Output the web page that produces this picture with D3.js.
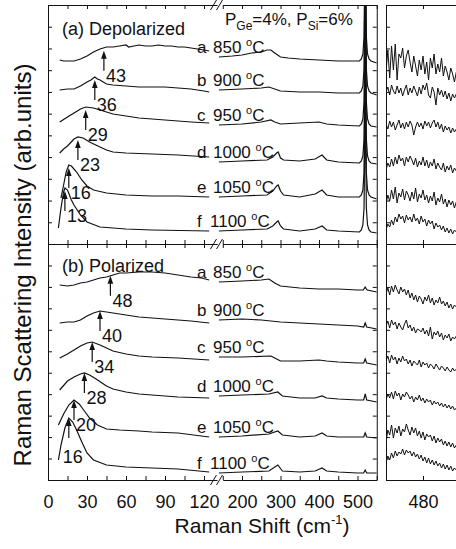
<!DOCTYPE html>
<html><head><meta charset="utf-8">
<script src="https://cdn.jsdelivr.net/npm/d3@7"></script>
<style>
body{margin:0;background:#fff}
text{font-family:"Liberation Sans",Arial,sans-serif;fill:#111}
.axis path,.axis line{stroke:#111;stroke-width:1}
.axis text{font-family:"Liberation Sans",Arial,sans-serif;font-size:18px;fill:#111}
</style>
</head><body><svg id="c" width="456" height="549"></svg>
<script>
// ---------------- DATA ----------------
const letters = ['a','b','c','d','e','f'];
const temps = ['850','900','950','1000','1050','1100'];
const depolPeaks = [43,36,29,23,16,13];
const polPeaks = [48,40,34,28,20,16];
const lowTicks = [0,15,30,45,60,75,90,105,120];
const highTicks = [150,200,250,300,350,400,450,500,550];
const zoomTicks = [470,480,490,500];
const zoomShifts = [470,470.5,471,471.5,472,472.5,473,473.5,474,474.5,475,475.5,476,476.5,477,477.5,478,478.5,479,479.5,480,480.5,481,481.5,482,482.5,483,483.5,484,484.5,485,485.5,486,486.5,487,487.5,488,488.5,489];

// (a) depolarized, low-frequency part [shift, intensity]
const depolLow = [
 [[9,184],[12,183],[15,183],[20,183],[25,185],[30,188],[35,192],[40,195],[45,197],[50,197],[55,198],[60,199],[62,197],[66,198],[70,199],[75,198],[80,198],[85,199],[90,198],[95,198],[100,197],[105,197],[110,196],[115,195],[120,194],[124,193]],
 [[9,154],[15,155],[20,155],[25,158],[30,162],[33,164],[36,167],[38,165],[40,164],[45,160],[50,159],[60,158],[70,157],[80,157],[90,157],[100,156],[110,155],[120,153],[124,152]],
 [[9,122],[15,127],[20,131],[25,135],[29,137],[35,136],[40,134],[50,130],[60,128],[70,126],[80,125],[90,124],[100,123],[110,122],[124,121]],
 [[9,91],[12,95],[15,98],[20,105],[23,107],[27,106],[32,102],[40,97],[45,94],[50,92],[60,91],[80,90],[100,89],[124,87]],
 [[10,46],[12,59],[14,72],[16,79],[18,78],[22,72],[26,64],[30,58],[35,54],[45,51],[60,49],[80,48],[100,48],[124,47]],
 [[8,16],[10,36],[12,52],[13,56],[15,54],[18,44],[20,39],[25,29],[30,22],[40,17],[60,15],[80,14],[124,13]]
];
// (a) depolarized, high-frequency part
const depolHigh = [
 [[140,187],[175,188],[200,189],[225,191],[250,192],[265,194],[275,194],[285,191],[300,187],[320,186],[350,185],[400,184],[450,183],[505,183],[510,185],[514,190],[517,207],[519,280],[520,600],[521,280],[523,207],[526,190],[530,185],[535,183],[550,181]],
 [[140,154],[200,155],[250,156],[270,157],[300,153],[350,152],[400,152],[450,151],[505,151],[510,153],[514,158],[517,175],[519,250],[520,600],[521,250],[523,175],[526,158],[530,153],[535,151],[550,149]],
 [[140,119],[200,120],[250,122],[275,124],[285,122],[300,120],[350,121],[400,122],[420,120],[450,119],[505,118],[510,120],[514,125],[517,142],[519,218],[520,600],[521,218],[523,142],[526,125],[530,120],[535,118],[550,117]],
 [[140,82],[200,83],[265,84],[280,87],[290,91],[294,92],[300,86],[308,84],[350,83],[390,85],[408,89],[420,84],[450,82],[505,81],[510,83],[514,88],[517,105],[519,180],[520,600],[521,180],[523,105],[526,88],[530,83],[535,81],[550,80]],
 [[140,47],[200,48],[265,49],[280,53],[290,58],[294,59],[300,53],[308,49],[350,47],[390,50],[408,54],[420,49],[450,47],[505,47],[510,49],[514,54],[517,71],[519,146],[520,600],[521,146],[523,71],[526,54],[530,49],[535,47],[550,45]],
 [[140,13],[200,14],[265,15],[280,18],[290,22],[294,23],[300,18],[308,15],[350,13],[390,15],[408,18],[420,14],[450,13],[505,12],[510,14],[514,19],[517,36],[519,111],[520,600],[521,111],[523,36],[526,19],[530,14],[535,12],[550,11]]
];
// (b) polarized, low-frequency part
const polLow = [
 [[9,195],[15,194],[20,195],[25,197],[30,198],[35,200],[40,202],[45,203],[50,205],[55,207],[60,207],[70,208],[80,208],[90,207],[100,205],[110,203],[118,202],[124,200]],
 [[9,157],[15,158],[20,158],[25,160],[30,164],[35,167],[40,169],[45,168],[50,167],[60,165],[70,163],[80,162],[90,161],[100,160],[110,159],[124,157]],
 [[9,122],[15,126],[20,130],[25,134],[30,137],[34,138],[40,135],[45,132],[50,129],[60,126],[70,124],[80,123],[100,122],[124,120]],
 [[9,90],[15,99],[20,103],[25,106],[28,107],[32,105],[37,101],[45,94],[50,91],[60,88],[70,86],[80,85],[100,83],[124,82]],
 [[8,55],[12,66],[16,75],[20,80],[24,76],[28,69],[32,62],[38,55],[45,51],[55,50],[70,49],[80,48],[100,47],[124,43]],
 [[8,20],[10,35],[13,52],[16,62],[19,58],[22,50],[26,38],[30,27],[35,20],[45,15],[60,13],[80,12],[100,11],[124,8]]
];
// (b) polarized, high-frequency part
const polHigh = [
 [[140,198],[200,199],[250,200],[270,201],[285,197],[300,194],[350,192],[400,191],[450,191],[500,190],[515,190],[520,193],[525,190],[550,188]],
 [[140,160],[200,161],[250,160],[300,158],[350,157],[400,156],[450,155],[500,154],[516,153],[520,157],[524,153],[550,151]],
 [[140,123],[200,123],[275,124],[285,122],[300,119],[350,119],[400,120],[420,119],[450,118],[500,117],[516,117],[520,121],[524,117],[550,115]],
 [[140,84],[200,85],[270,86],[293,88],[305,84],[350,82],[390,82],[408,84],[420,82],[450,81],[500,80],[516,80],[520,86],[524,80],[550,78]],
 [[140,43],[200,44],[270,46],[293,49],[305,45],[350,43],[390,44],[408,47],[420,44],[450,43],[500,43],[516,43],[520,47],[524,43],[550,42]],
 [[140,7],[200,8],[270,9],[293,15],[305,9],[350,8],[390,9],[408,12],[420,9],[450,8],[500,7],[516,7],[520,10],[524,7],[550,7]]
];
// zoomed panel near 480 cm-1 (noisy traces)
const depolZoom = [
 [172,194,166,198,174,200,164,190,186,196,176,188,194,182,172,188,178,168,184,174,188,170,182,164,186,176,190,170,180,172,186,168,178,172,164,176,170,162,172],
 [152,157,149,159,153,150,158,151,156,148,154,159,149,156,151,158,153,148,157,150,159,154,161,149,146,157,152,139,156,149,154,147,153,145,151,143,150,146,150],
 [120,115,123,117,122,114,119,124,116,121,115,122,117,123,119,109,117,122,117,121,115,123,118,122,116,121,124,117,122,115,120,112,118,114,117,111,116,112,115],
 [74,81,77,85,78,87,80,89,83,86,78,87,82,88,84,79,86,77,83,79,87,78,84,76,82,78,85,75,81,77,74,81,72,78,74,79,71,76,73],
 [40,49,43,54,45,57,41,51,47,55,44,53,49,43,52,45,56,42,50,46,54,44,49,41,48,43,52,39,46,42,50,40,45,37,44,39,43,36,42],
 [14,20,17,24,19,27,22,30,25,28,21,29,24,27,22,30,23,26,20,28,22,25,18,24,20,23,15,21,17,19,14,18,12,16,11,15,10,14,12]
];
const polZoom = [
 [186,192,185,194,188,195,190,186,193,188,191,185,190,182,187,180,185,178,184,181,176,183,179,185,177,182,175,180,177,183,176,179,174,178,172,176,171,175,173],
 [154,159,152,160,155,158,151,157,153,150,156,160,152,155,149,153,147,151,150,148,152,146,150,144,153,141,148,145,149,143,147,140,145,142,146,139,143,141,144],
 [119,124,117,125,120,123,116,122,118,124,119,121,116,120,114,119,117,115,120,113,118,115,117,112,116,114,111,116,113,110,114,112,109,113,110,108,112,109,111],
 [80,86,82,88,81,89,84,87,80,86,83,88,85,81,84,78,83,80,85,79,82,77,81,78,80,75,79,76,78,74,77,73,76,72,75,71,74,70,72],
 [38,50,45,55,42,52,47,54,44,51,48,56,50,45,53,47,52,44,49,42,48,40,46,43,45,39,44,37,42,38,41,35,39,34,38,33,37,32,35],
 [18,24,20,27,22,29,24,28,26,31,25,30,27,29,24,28,23,26,21,25,19,23,17,22,16,20,15,19,14,17,12,16,11,15,10,14,9,12,10]
];

// ---------------- LAYOUT ----------------
const svg = d3.select('#c');
const L = 48, BR1 = 217, BR2 = 222.75, R = 376.75, ZL = 386;
const xLow = d3.scaleLinear().domain([0,130]).range([L,BR1]);
const xHigh = d3.scaleLinear().domain([150,550]).range([BR2,R]);
const xZoom = d3.scaleLinear().domain([470,510]).range([ZL,ZL+148]);
const panels = [
  {name:'(a) Depolarized', y:d3.scaleLinear().domain([0,239]).range([244,5]), top:5, bot:244, low:depolLow, high:depolHigh, zoom:depolZoom, peaks:depolPeaks, gap:3},
  {name:'(b) Polarized', y:d3.scaleLinear().domain([0,236]).range([480,244]), top:244, bot:480, low:polLow, high:polHigh, zoom:polZoom, peaks:polPeaks, gap:0}
];

const defs = svg.append('defs');
panels.forEach((p,i)=>{
  defs.append('clipPath').attr('id','clipM'+i).append('rect').attr('x',L).attr('y',p.top).attr('width',R-L).attr('height',p.bot-p.top);
  defs.append('clipPath').attr('id','clipZ'+i).append('rect').attr('x',ZL).attr('y',p.top).attr('width',456-ZL).attr('height',p.bot-p.top);
});

function interp(series, s){
  for(let k=0;k<series.length-1;k++){
    const a=series[k], b=series[k+1];
    if(s>=a[0] && s<=b[0]){ const t=(s-a[0])/(b[0]-a[0]); return a[1]+t*(b[1]-a[1]); }
  }
  return series[0][1];
}

const fmtLow = d => (d%30===0 ? d : '');
const fmtHigh = d => (d>=200 && d<=500 && d%100===0 ? d : '');
const fmtZoom = d => (d===480 ? d : '');

panels.forEach((p,i)=>{
  const ys = p.y;
  const yt = d3.range(12).map(k=>k*(ys.domain()[1])/11);
  svg.append('g').attr('class','axis').attr('transform',`translate(${L},0)`)
    .call(d3.axisLeft(ys).tickValues(yt).tickSizeInner(-4).tickSizeOuter(0).tickFormat(''));
  svg.append('g').attr('class','axis').attr('transform',`translate(${R},0)`)
    .call(d3.axisRight(ys).tickValues(yt).tickSizeInner(-4).tickSizeOuter(0).tickFormat(''));
  svg.append('g').attr('class','axis').attr('transform',`translate(${ZL},0)`)
    .call(d3.axisLeft(ys).tickValues(yt).tickSizeInner(-4).tickSizeOuter(0).tickFormat(''));
  [[xLow,lowTicks],[xHigh,highTicks],[xZoom,zoomTicks]].forEach(([sc,tv])=>{
    svg.append('g').attr('class','axis').attr('transform',`translate(0,${p.top})`)
      .call(d3.axisTop(sc).tickValues(tv).tickSizeInner(-4).tickSizeOuter(0).tickFormat(''));
    const fm = sc===xLow?fmtLow:(sc===xHigh?fmtHigh:fmtZoom);
    svg.append('g').attr('class','axis').attr('transform',`translate(0,${p.bot})`)
      .call(d3.axisBottom(sc).tickValues(tv).tickSizeInner(-4).tickSizeOuter(0).tickPadding(15).tickFormat(i===1?fm:''));
  });

  const gM = svg.append('g').attr('clip-path',`url(#clipM${i})`);
  const lineLow = d3.line().x(d=>xLow(d[0])).y(d=>ys(d[1]));
  const lineHigh = d3.line().x(d=>xHigh(d[0])).y(d=>ys(d[1]));
  p.low.forEach(s=>gM.append('path').attr('d',lineLow(s)).attr('fill','none').attr('stroke','#111').attr('stroke-width',1.2));
  p.high.forEach(s=>gM.append('path').attr('d',lineHigh(s)).attr('fill','none').attr('stroke','#111').attr('stroke-width',1.2));

  const gZ = svg.append('g').attr('clip-path',`url(#clipZ${i})`);
  const lineZ = d3.line().x((d,k)=>xZoom(zoomShifts[k])).y(d=>ys(d));
  p.zoom.forEach(s=>gZ.append('path').attr('d',lineZ(s)).attr('fill','none').attr('stroke','#111').attr('stroke-width',1));

  svg.append('text').attr('x',62).attr('y',p.top+(i===0?30:28)).attr('font-size',18).text(p.name);

  p.high.forEach((s,k)=>{
    const yb = ys(interp(s,140)) - 4;
    svg.append('text').attr('x',197).attr('y',yb).attr('font-size',17).text(letters[k]);
    const t = svg.append('text').attr('x',k===5?210:213).attr('y',yb).attr('font-size',17);
    t.append('tspan').text(temps[k]+' ');
    t.append('tspan').attr('font-size',11).attr('dy',-7).text('o');
    t.append('tspan').attr('dy',7).text('C');
  });

  p.peaks.forEach((pk,k)=>{
    const x = xLow(pk);
    const tip = ys(interp(p.low[k],pk)) + p.gap;
    const base = tip + 20;
    svg.append('line').attr('x1',x).attr('x2',x).attr('y1',tip+5).attr('y2',base).attr('stroke','#111').attr('stroke-width',1.2);
    svg.append('path').attr('d',`M${x},${tip} L${x-2.8},${tip+8} L${x+2.8},${tip+8} Z`).attr('fill','#111');
    const last = (i===1 && k===5);
    svg.append('text').attr('x',last?x-6:x+2).attr('y',last?base+25:base+11).attr('font-size',18).text(pk);
  });
});

[5,244,480].forEach(y=>{
  [213.5,219.5].forEach(x=>{
    svg.append('line').attr('x1',x-3).attr('y1',y+5).attr('x2',x+3).attr('y2',y-5).attr('stroke','#111').attr('stroke-width',1);
  });
});

const pt = svg.append('text').attr('x',225).attr('y',25).attr('font-size',17);
pt.append('tspan').text('P');
pt.append('tspan').attr('font-size',12).attr('dy',5).text('Ge');
pt.append('tspan').attr('dy',-5).text('=4%, P');
pt.append('tspan').attr('font-size',12).attr('dy',5).text('Si');
pt.append('tspan').attr('dy',-5).text('=6%');

const xt = svg.append('text').attr('x',262).attr('y',533).attr('text-anchor','middle').attr('font-size',21);
xt.append('tspan').text('Raman Shift (cm');
xt.append('tspan').attr('font-size',13).attr('dy',-9).text('-1');
xt.append('tspan').attr('dy',9).text(')');
svg.append('text').attr('transform','translate(31,265) rotate(-90)').attr('text-anchor','middle').attr('font-size',24)
  .text('Raman Scattering Intensity (arb.units)');
</script></body></html>
